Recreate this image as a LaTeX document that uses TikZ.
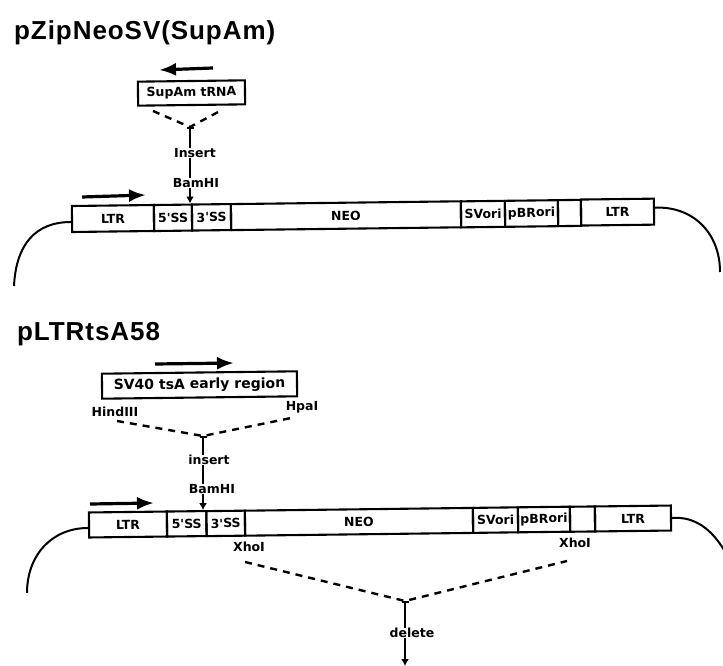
\documentclass[tikz,border=0pt]{standalone}
\usepackage{fontspec}
\setmainfont{Liberation Sans}
\usetikzlibrary{arrows.meta}
\newfontfamily\lab{DejaVu Sans}
\newfontfamily\ttlfont[LetterSpace=3.6]{Liberation Sans}
\tikzset{
  seg/.style={draw,line width=2.1pt,inner sep=0pt,minimum height=#1,anchor=center,rotate=0.7,font=\lab\bfseries\fontsize{12.5}{14}\selectfont},
  seg/.default=26pt,
  lbl/.style={inner sep=0pt,font=\lab\bfseries\fontsize{12.5}{14}\selectfont},
  ttl/.style={inner sep=0pt,anchor=base west,font=\ttlfont\bfseries\fontsize{26}{30}\selectfont},
  dir/.style={line width=3.2pt,-{Latex[length=17pt,width=13pt]}},
  dsh/.style={line width=2.4pt,dash pattern=on 7pt off 6pt},
  stem/.style={line width=2.1pt},
  tee/.style={stem,{Bar[width=7pt,line width=1.8pt]}-},
  pt/.style={stem,-{Latex[length=7pt,width=8pt]}},
  bb/.style={line width=2pt}
}
\begin{document}
\begin{tikzpicture}[x=1pt,y=-1pt]
\useasboundingbox (0,0) rectangle (723,666);
% top construct
\node[ttl] (t1) at (14,40) {pZipNeoSV(SupAm)};
\node[seg,minimum width=107pt,minimum height=24pt] (sup) at (191.5,93) {SupAm tRNA};
\coordinate (sl) at (153,111); \coordinate (sr) at (220,111); \coordinate (sj) at (190,127);
\coordinate (a1s) at (213,68); \coordinate (a1e) at (159,70);
\draw[dir] (a1s) -- (a1e);
\draw[dsh] (sl) -- (sj) -- (sr);
\node[lbl] (ins1) at (195,153) {Insert};
\node[lbl] (bam1) at (196,183) {BamHI};
\node[seg,minimum width=82pt] (ltra) at (113,218.5) {LTR};
\node[seg,minimum width=38pt] (ssa) at (173,217.8) {5'SS};
\node[seg,minimum width=39pt] (sta) at (211.5,217.3) {3'SS};
\node[seg,minimum width=230pt] (neoa) at (346,215.7) {NEO};
\node[seg,minimum width=44pt] (sva) at (483,214.1) {SVori};
\node[seg,minimum width=53pt] (pba) at (531.5,213.5) {pBRori};
\node[seg,minimum width=23pt] (bla) at (569.5,213) {};
\node[seg,minimum width=73pt] (ltrb) at (617.5,212.1) {LTR};
\draw[tee] (sj) -- (ins1.north -| sj);
\draw[stem] (ins1.south -| sj) -- (bam1.north -| sj);
\draw[pt] (bam1.south -| sj) -- (sj |- sta.north west);
\coordinate (a2s) at (82,197); \coordinate (a2e) at (146,195);
\draw[dir] (a2s) -- (a2e);
\coordinate (c1) at (14,286); \coordinate (c2) at (720,272);
\draw[bb] ([yshift=-3pt]ltra.west) .. controls (35,222) and (16,245) .. (c1);
\draw[bb] ([yshift=4pt]ltrb.east) .. controls (692,206) and (720,232) .. (c2);
% bottom construct
\node[ttl] (t2) at (17,340) {pLTRtsA58};
\node[seg,minimum width=195pt,minimum height=25pt] (sv) at (199.5,385) {\fontsize{14}{16}\selectfont SV40 tsA early region};
\coordinate (a3s) at (155,364); \coordinate (a3e) at (234,363);
\draw[dir] (a3s) -- (a3e);
\node[lbl] (hind) at (115,412) {HindIII};
\node[lbl] (hpa) at (302,407) {HpaI};
\coordinate (hl) at (117,421); \coordinate (hr) at (291,418); \coordinate (hj) at (203,436);
\draw[dsh] (hl) -- (hj) -- (hr);
\node[lbl] (ins2) at (209,460) {insert};
\node[lbl] (bam2) at (212,489) {BamHI};
\node[seg,minimum width=78pt,minimum height=25pt] (ltrc) at (128,524.5) {LTR};
\node[seg,minimum width=39.5pt,minimum height=25pt] (ssb) at (186.7,523.8) {5'SS};
\node[seg,minimum width=38.5pt,minimum height=25pt] (stb) at (225.7,523.4) {3'SS};
\node[seg,minimum width=228pt,minimum height=25pt] (neob) at (359,521.8) {NEO};
\node[seg,minimum width=45pt,minimum height=25pt] (svb) at (495.5,520.1) {SVori};
\node[seg,minimum width=52pt,minimum height=25pt] (pbb) at (544,519.5) {pBRori};
\node[seg,minimum width=25pt,minimum height=25pt] (blb) at (582.5,519.1) {};
\node[seg,minimum width=76pt,minimum height=25pt] (ltrd) at (633,518.5) {LTR};
\draw[tee] (hj) -- (ins2.north -| hj);
\draw[stem] (ins2.south -| hj) -- (bam2.north -| hj);
\draw[pt] (bam2.south -| hj) -- (hj |- stb.north west);
\coordinate (a4s) at (90,504); \coordinate (a4e) at (154,503);
\draw[dir] (a4s) -- (a4e);
\coordinate (c3) at (27,593); \coordinate (c4) at (724,550);
\draw[bb] ([yshift=-3pt]ltrc.west) .. controls (52,528) and (27,555) .. (c3);
\draw[bb] (ltrd.east) .. controls (695,516) and (712,530) .. (c4);
\node[lbl] (x1) at (249,547) {XhoI};
\node[lbl] (x2) at (575,543) {XhoI};
\coordinate (xl) at (245,562); \coordinate (xr) at (567,561); \coordinate (xj) at (405,601);
\draw[dsh] (xl) -- (xj) -- (xr);
\node[lbl] (del) at (412,633) {delete};
\coordinate (xe) at (405,666);
\draw[tee] (xj) -- (del.north -| xj);
\draw[pt] (del.south -| xj) -- (xe);
\end{tikzpicture}
\end{document}
